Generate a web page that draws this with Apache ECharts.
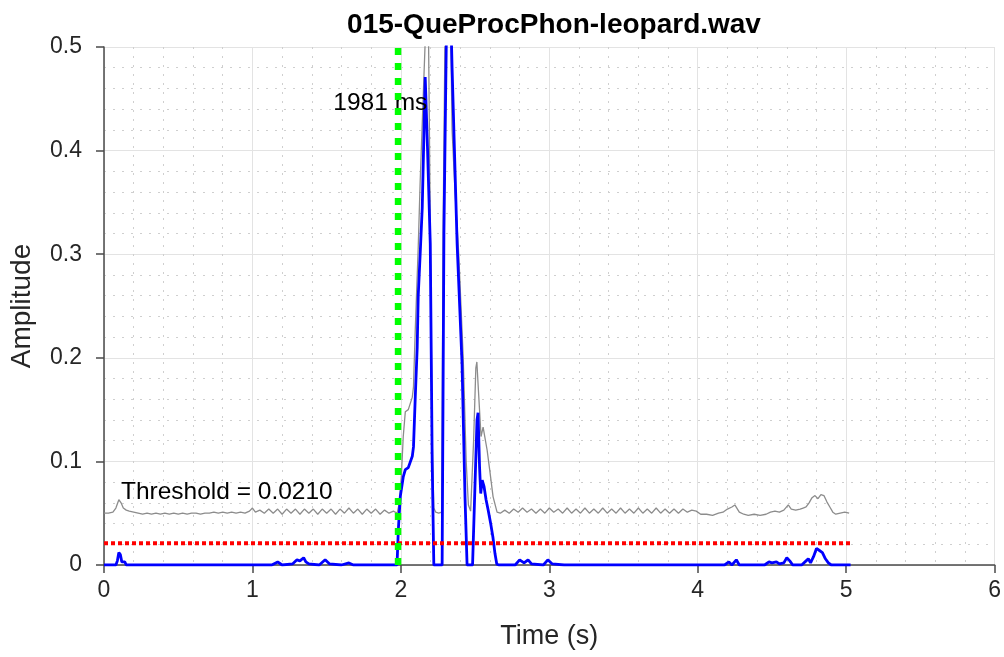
<!DOCTYPE html>
<html>
<head>
<meta charset="utf-8">
<script src="https://cdn.jsdelivr.net/npm/echarts@6/dist/echarts.min.js"></script>
<style>html,body{margin:0;padding:0;background:#fff;}#c{width:1004px;height:657px;}</style>
</head>
<body>
<div id="c"></div>
<script>
// ---- data ----
const titleText = '015-QueProcPhon-leopard.wav';
const xTicks = [0, 1, 2, 3, 4, 5, 6];
const yTicks = [0, 0.1, 0.2, 0.3, 0.4, 0.5];
const threshold = 0.021;
const thresholdEndT = 5.03;
const onsetT = 1.981;
const onsetLabel = '1981 ms';
const thresholdLabel = 'Threshold = 0.0210';

// gray envelope (time s, amplitude)
const grayT = [0.00,0.03,0.06,0.08,0.10,0.115,0.13,0.15,0.17,0.20,0.23,0.26,0.29,0.32,0.35,0.38,0.41,0.44,0.47,0.50,0.53,0.56,0.59,0.62,0.65,0.68,0.71,0.74,0.77,0.80,0.83,0.86,0.89,0.92,0.95,0.98,1.00,1.02,1.05,1.08,
1.11,1.14,1.17,1.20,1.23,1.26,1.29,1.32,1.35,1.38,1.41,1.44,1.47,1.50,1.53,1.56,1.59,1.62,1.65,1.68,1.71,1.74,1.77,1.80,1.83,1.86,1.89,1.92,1.95,1.975,
1.990,2.003,2.016,2.030,2.050,2.077,2.085,2.097,2.117,2.130,2.150,2.170,2.185,2.198,2.211,2.222,2.235,2.255,2.275,2.285,2.300,2.330,2.345,2.365,2.390,2.420,2.440,2.455,2.470,2.490,2.505,2.512,2.520,2.540,2.554,2.581,2.601,2.621,2.648,2.67,
2.70,2.73,2.76,2.79,2.82,2.85,2.88,2.91,2.94,2.97,3.00,3.03,3.06,3.09,3.12,3.15,3.18,3.21,3.24,3.27,3.30,3.33,3.36,3.39,3.42,3.45,3.48,3.51,3.54,3.57,3.60,3.63,3.66,3.69,3.72,3.75,3.78,3.81,3.84,3.87,3.90,3.93,3.96,3.99,
4.02,4.06,4.10,4.14,4.17,4.20,4.23,4.25,4.28,4.31,4.34,4.38,4.42,4.46,4.49,4.52,4.55,4.58,4.61,4.63,4.66,4.69,4.71,4.73,4.75,4.77,4.79,4.81,4.83,4.85,4.87,4.89,4.91,4.93,4.96,4.99,5.02];
const grayA = [0.050,0.050,0.051,0.055,0.063,0.060,0.055,0.053,0.052,0.051,0.050,0.049,0.050,0.049,0.050,0.049,0.050,0.049,0.050,0.049,0.050,0.049,0.050,0.050,0.049,0.050,0.050,0.051,0.050,0.051,0.050,0.051,0.050,0.051,0.050,0.052,0.055,0.051,0.053,0.050,
0.054,0.050,0.054,0.049,0.054,0.050,0.054,0.049,0.054,0.050,0.054,0.049,0.054,0.050,0.054,0.049,0.054,0.050,0.055,0.050,0.054,0.049,0.054,0.050,0.054,0.049,0.053,0.050,0.052,0.050,
0.060,0.085,0.124,0.148,0.150,0.162,0.172,0.227,0.307,0.370,0.450,0.530,0.530,0.330,0.120,0.055,0.051,0.050,0.051,0.330,0.550,0.580,0.420,0.360,0.300,0.200,0.100,0.058,0.052,0.120,0.190,0.196,0.175,0.124,0.133,0.111,0.089,0.066,0.051,0.050,
0.053,0.050,0.054,0.051,0.055,0.051,0.054,0.050,0.054,0.050,0.055,0.051,0.054,0.050,0.055,0.050,0.054,0.050,0.055,0.050,0.054,0.050,0.055,0.050,0.054,0.050,0.055,0.050,0.054,0.050,0.055,0.050,0.054,0.050,0.055,0.050,0.054,0.050,0.054,0.050,0.054,0.051,0.053,0.052,
0.049,0.049,0.048,0.050,0.051,0.054,0.056,0.058,0.051,0.049,0.048,0.049,0.048,0.049,0.051,0.052,0.051,0.053,0.058,0.054,0.053,0.054,0.055,0.056,0.060,0.065,0.067,0.064,0.068,0.067,0.061,0.056,0.051,0.049,0.050,0.051,0.050];

// blue signal (time s, amplitude)
const blueT = [0.00,0.08,0.09,0.10,0.11,0.12,0.13,0.14,0.15,1.13,1.17,1.20,1.27,1.30,1.32,1.345,1.36,1.38,1.45,1.49,1.52,1.60,1.65,1.68,1.974,
1.983,1.996,2.016,2.030,2.050,2.077,2.085,2.097,2.110,2.117,2.130,2.144,2.164,2.180,2.198,2.211,2.222,2.278,2.290,2.310,2.325,2.345,2.379,2.412,2.432,2.446,2.483,2.500,2.513,2.520,2.530,2.538,2.548,2.560,2.574,2.588,2.605,2.620,2.634,2.646,2.66,
2.77,2.80,2.83,2.857,2.88,2.96,2.99,3.02,3.10,4.18,4.21,4.23,4.26,4.28,4.45,4.48,4.50,4.53,4.55,4.58,4.60,4.62,4.64,4.70,4.73,4.745,4.76,4.78,4.80,4.82,4.84,4.86,4.88,4.90,5.03];
const blueA = [0,0,0.004,0.012,0.010,0.003,0.002,0.003,0,0,0.003,0,0.001,0.005,0.004,0.007,0.003,0.001,0,0.005,0.001,0,0.002,0,0,
0.034,0.066,0.085,0.092,0.094,0.105,0.114,0.162,0.210,0.260,0.300,0.345,0.471,0.400,0.310,0.100,0,0,0.320,0.550,0.600,0.480,0.310,0.195,0.066,0,0,0.080,0.140,0.147,0.095,0.069,0.082,0.076,0.063,0.053,0.040,0.027,0.011,0.001,0,
0,0.005,0.002,0.005,0.001,0,0.005,0.001,0,0,0.003,0,0.005,0,0,0.003,0.002,0.003,0.001,0.002,0.007,0.004,0,0,0.004,0.006,0.002,0.008,0.016,0.014,0.012,0.006,0.002,0,0];

// ---- chart ----
const zip = (a, b) => a.map((v, i) => [v, b[i]]);
const font = '"Liberation Sans", Arial, Helvetica, sans-serif';
const chart = echarts.init(document.getElementById('c'), null, {renderer: 'canvas'});
chart.setOption({
  animation: false,
  backgroundColor: '#ffffff',
  title: {
    text: titleText, left: 549, textAlign: 'center', top: 6,
    textStyle: {fontFamily: font, fontWeight: 'bold', fontSize: 28, color: '#000'}
  },
  grid: {left: 103, right: 8, top: 47, bottom: 92, containLabel: false},
  xAxis: {
    type: 'value', min: xTicks[0], max: xTicks[xTicks.length - 1], interval: 1,
    name: 'Time (s)', nameLocation: 'middle', nameGap: 58,
    nameTextStyle: {fontFamily: font, fontSize: 27, color: '#262626'},
    axisLine: {show: true, onZero: false, lineStyle: {color: '#4a4a4a', width: 1.5}},
    axisTick: {show: true, inside: false, length: 8, lineStyle: {color: '#4a4a4a', width: 1.5}},
    axisLabel: {fontFamily: font, fontSize: 23, color: '#262626', margin: 14},
    splitLine: {show: true, lineStyle: {color: '#e3e3e3', width: 1}},
    minorTick: {show: false, splitNumber: 5},
    minorSplitLine: {show: true, lineStyle: {color: '#cfcfcf', width: 1, type: [2, 7]}}
  },
  yAxis: {
    type: 'value', min: yTicks[0], max: yTicks[yTicks.length - 1], interval: 0.1,
    name: 'Amplitude', nameLocation: 'middle', nameGap: 68,
    nameTextStyle: {fontFamily: font, fontSize: 28, color: '#262626'},
    axisLine: {show: true, onZero: false, lineStyle: {color: '#4a4a4a', width: 1.5}},
    axisTick: {show: true, inside: false, length: 8, lineStyle: {color: '#4a4a4a', width: 1.5}},
    axisLabel: {fontFamily: font, fontSize: 23, color: '#262626', margin: 22},
    splitLine: {show: true, lineStyle: {color: '#e3e3e3', width: 1}},
    minorTick: {show: false, splitNumber: 5},
    minorSplitLine: {show: true, lineStyle: {color: '#cfcfcf', width: 1, type: [2, 7]}}
  },
  series: [
    {
      name: 'envelope', type: 'line', data: zip(grayT, grayA), showSymbol: false, clip: true,
      lineStyle: {color: '#8c8c8c', width: 1.3}, z: 2,
      markPoint: {
        symbolSize: 0, silent: true,
        label: {show: true, position: 'right', distance: 0, fontFamily: font, fontSize: 24.5, color: '#000'},
        data: [
          {coord: [0.114, 0.0705], value: thresholdLabel, label: {formatter: thresholdLabel}},
          {coord: [1.545, 0.446], value: onsetLabel, label: {formatter: onsetLabel}}
        ]
      }
    },
    {
      name: 'signal', type: 'line', data: zip(blueT, blueA), showSymbol: false, clip: true,
      lineStyle: {color: '#0000ff', width: 2.8}, z: 3
    },
    {
      name: 'threshold', type: 'line', data: [[0, threshold], [thresholdEndT, threshold]], showSymbol: false,
      lineStyle: {color: '#ff0000', width: 4, type: [4, 3], cap: 'butt'}, z: 4
    },
    {
      name: 'onset', type: 'line', data: [[onsetT, yTicks[0]], [onsetT, yTicks[yTicks.length - 1]]], showSymbol: false,
      lineStyle: {color: '#00ff00', width: 6.5, type: [7, 8], cap: 'butt'}, z: 5
    }
  ]
});
</script>
</body>
</html>
